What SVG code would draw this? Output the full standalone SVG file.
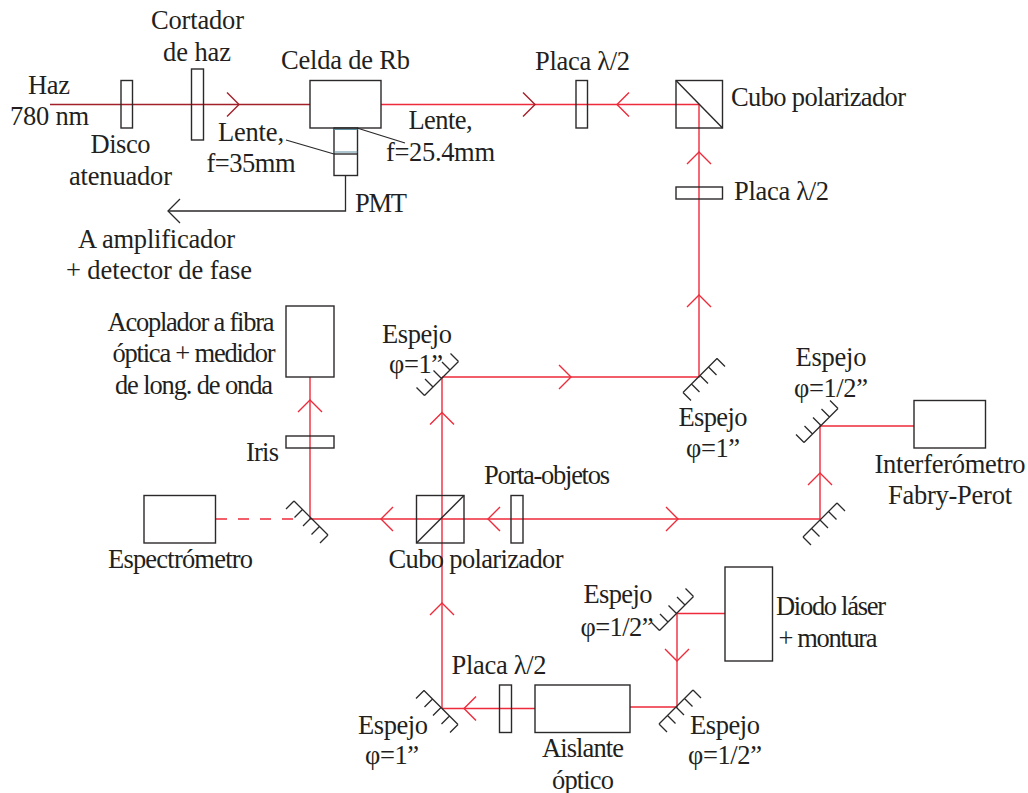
<svg xmlns="http://www.w3.org/2000/svg" xmlns:xlink="http://www.w3.org/1999/xlink" width="1028" height="793" viewBox="0 0 1028 793">
<style>
text{font-family:"Liberation Serif","Times New Roman",serif;font-size:26.500px;fill:#231f20;text-anchor:middle;transform:translateY(1px)}
.s{text-anchor:start}
.b,.m,.l{fill:none;stroke:#2b2929;stroke-width:1.4}
.m,.l{stroke-width:1.3}
.r{fill:none;stroke:#ee2b3b;stroke-width:1.4}
.d{fill:none;stroke:#a3202a;stroke-width:1.4}
.g{fill:none;stroke:#5f8ea0;stroke-width:1.2}
</style>
<defs>
<path id="ah" d="M-12,-12L0,0L-12,12"/>
<path id="mi" d="M-17,-17L17,17M-17,-17l-8,8M-8.500,-8.500l-8,8M0,0l-8,8M8.500,8.500l-8,8M17,17l-8,8"/>
</defs>
<g id="connectors">
<path class="d" d="M50,104.500H310"/>
<use class="d" xlink:href="#ah" href="#ah" transform="translate(239,104.500)"/>
<path class="r" d="M381,104.500H699V377H442M442,708V377"/>
<use class="d" xlink:href="#ah" href="#ah" transform="translate(535,104.500)"/>
<use class="r" xlink:href="#ah" href="#ah" transform="translate(617,104.500) rotate(180)"/>
<use class="r" xlink:href="#ah" href="#ah" transform="translate(699,152) rotate(-90)"/>
<use class="r" xlink:href="#ah" href="#ah" transform="translate(699,295) rotate(-90)"/>
<use class="r" xlink:href="#ah" href="#ah" transform="translate(571,377)"/>
<use class="r" xlink:href="#ah" href="#ah" transform="translate(442,412.500) rotate(-90)"/>
<path class="r" d="M310,377V519H820V426H914"/>
<use class="r" xlink:href="#ah" href="#ah" transform="translate(310,400) rotate(-90)"/>
<use class="r" xlink:href="#ah" href="#ah" transform="translate(381,519) rotate(180)"/>
<use class="r" xlink:href="#ah" href="#ah" transform="translate(488,519) rotate(180)"/>
<use class="r" xlink:href="#ah" href="#ah" transform="translate(678,519)"/>
<use class="r" xlink:href="#ah" href="#ah" transform="translate(820,473) rotate(-90)"/>
<path class="r" stroke-dasharray="11 11" d="M216,519H298"/>
<path class="r" d="M725,613.500H677V707H630M535,708.500H442"/>
<use class="r" xlink:href="#ah" href="#ah" transform="translate(677,661) rotate(90)"/>
<use class="r" xlink:href="#ah" href="#ah" transform="translate(464,708.500) rotate(180)"/>
<use class="r" xlink:href="#ah" href="#ah" transform="translate(442,603) rotate(-90)"/>
<path class="l" d="M345.500,176V211H168"/>
<use class="l" xlink:href="#ah" href="#ah" transform="translate(168,211) rotate(180)"/>
<path class="l" d="M286,140L334,154M357,128L405,143"/>
</g>
<g id="haz"><text x="49" y="93" textLength="42">Haz</text><text x="49.500" y="124" textLength="79">780 nm</text></g>
<g id="disco"><rect class="b" x="121" y="80.500" width="11.500" height="47.500"/><text x="120.500" y="152" textLength="60">Disco</text><text x="120.500" y="184" textLength="103">atenuador</text></g>
<g id="cortador"><rect class="b" x="191.500" y="69" width="12" height="71"/><text x="197.500" y="28" textLength="93">Cortador</text><text x="197" y="60" textLength="68">de haz</text></g>
<g id="celda"><rect class="b" x="310" y="80.500" width="71" height="47.500"/><text x="345.500" y="68" textLength="129">Celda de Rb</text></g>
<g id="lente35"><text x="251" y="140" textLength="66">Lente,</text><text x="251" y="171" textLength="89">f=35mm</text></g>
<g id="lente25"><text x="440.500" y="128" textLength="64">Lente,</text><text x="440.500" y="160" textLength="109">f=25.4mm</text></g>
<g id="pmt"><rect class="b" x="334" y="128" width="23.500" height="47.500"/><path class="g" d="M334,129.500H357.500M334,152H357.500"/><path class="b" d="M334,154H357.500"/><text class="s" x="355" y="211" textLength="52">PMT</text></g>
<g id="amplificador"><text x="156.500" y="247" textLength="157">A amplificador</text><text x="159" y="278" textLength="186">+ detector de fase</text></g>
<g id="placa1"><rect class="b" x="576" y="80.500" width="11.500" height="47.500"/><text class="s" x="535" y="69" textLength="95">Placa λ/2</text></g>
<g id="cubo1"><rect class="b" x="676" y="80.500" width="46.500" height="47.500"/><path class="b" d="M676,80.500L722.500,128"/><text class="s" x="731" y="105" textLength="175">Cubo polarizador</text></g>
<g id="placa2"><rect class="b" x="676" y="187" width="46.500" height="12"/><text class="s" x="734" y="199" textLength="95">Placa λ/2</text></g>
<g id="acoplador"><rect class="b" x="286" y="306" width="48" height="71"/><text x="191" y="330" textLength="167">Acoplador a fibra</text><text x="194" y="361" textLength="163">óptica + medidor</text><text x="194" y="393" textLength="158">de long. de onda</text></g>
<g id="iris"><rect class="b" x="286" y="436" width="48" height="12"/><text class="s" x="246" y="460" textLength="33">Iris</text></g>
<g id="espectrometro"><rect class="b" x="144" y="495.500" width="71.500" height="47.500"/><text x="180.500" y="567" textLength="145">Espectrómetro</text></g>
<g id="espejo1"><use class="m" xlink:href="#mi" href="#mi" transform="translate(311,518)"/></g>
<g id="cubo2"><rect class="b" x="416.500" y="495.500" width="47.500" height="47.500"/><path class="b" d="M416.500,543L464,495.500"/><text x="476" y="567" textLength="175">Cubo polarizador</text></g>
<g id="portaobjetos"><rect class="b" x="511" y="495.500" width="12" height="47.500"/><text class="s" x="484" y="483" textLength="126">Porta-objetos</text></g>
<g id="espejo2"><use class="m" xlink:href="#mi" href="#mi" transform="translate(441.500,378.500) rotate(90)"/><text x="417" y="342" textLength="70">Espejo</text><text class="s" x="389" y="372" textLength="54">φ=1”</text></g>
<g id="espejo3"><use class="m" xlink:href="#mi" href="#mi" transform="translate(700,375.500) rotate(-90)"/><text x="713" y="425" textLength="69">Espejo</text><text x="713" y="456" textLength="54">φ=1”</text></g>
<g id="espejo4"><use class="m" xlink:href="#mi" href="#mi" transform="translate(820,520) rotate(-90)"/></g>
<g id="espejo5"><use class="m" xlink:href="#mi" href="#mi" transform="translate(821,425.500) rotate(90)"/><text x="831" y="365" textLength="71">Espejo</text><text x="831" y="396" textLength="74">φ=1/2”</text></g>
<g id="interferometro"><rect class="b" x="914" y="400.500" width="71.500" height="47.500"/><text x="950" y="472" textLength="151">Interferómetro</text><text x="950" y="503" textLength="124">Fabry-Perot</text></g>
<g id="espejo6"><use class="m" xlink:href="#mi" href="#mi" transform="translate(676.500,613.500) rotate(90)"/><text x="618" y="602" textLength="69">Espejo</text><text x="617" y="635" textLength="73">φ=1/2”</text></g>
<g id="diodo"><rect class="b" x="725" y="567" width="47.500" height="94"/><text x="831" y="614" textLength="110">Diodo láser</text><text x="828" y="646" textLength="99">+ montura</text></g>
<g id="espejo7"><use class="m" xlink:href="#mi" href="#mi" transform="translate(676,707) rotate(-90)"/><text x="725" y="733" textLength="70">Espejo</text><text x="725" y="763" textLength="74">φ=1/2”</text></g>
<g id="aislante"><rect class="b" x="535" y="685" width="95" height="47.500"/><text x="583" y="756" textLength="82">Aislante</text><text x="583" y="788" textLength="62">óptico</text></g>
<g id="placa3"><rect class="b" x="499.500" y="685" width="12" height="47.500"/><text x="499" y="673" textLength="95">Placa λ/2</text></g>
<g id="espejo8"><use class="m" xlink:href="#mi" href="#mi" transform="translate(441,707.500)"/><text x="393" y="733" textLength="70">Espejo</text><text x="392" y="763" textLength="54">φ=1”</text></g>
</svg>
